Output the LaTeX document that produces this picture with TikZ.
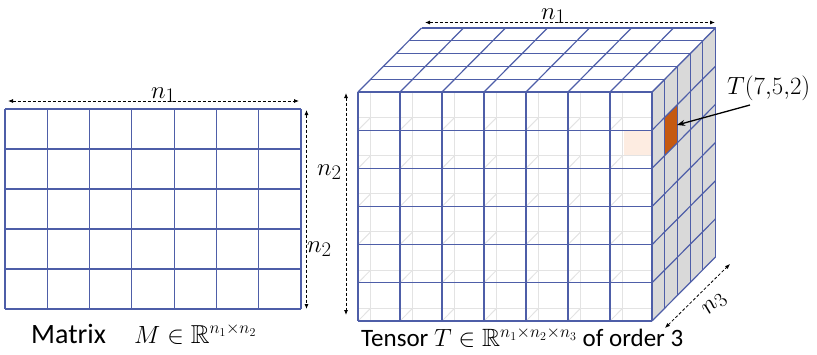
\documentclass[tikz,border=0pt]{standalone}
\usepackage{amsmath,amssymb}
\usepackage{fontspec}
\setmainfont{Carlito}
\usetikzlibrary{arrows.meta}
\definecolor{gridblue}{RGB}{78,94,168}
\definecolor{sidegray}{RGB}{217,217,217}
\definecolor{cellorange}{RGB}{197,90,17}
\definecolor{peach}{RGB}{253,236,225}
\begin{document}
\begin{tikzpicture}[x=1pt,y=-1pt,
  gridline/.style={draw=gridblue,line width=1.2pt},
  ghostline/.style={draw=black!11,line width=1pt},
  dimarrow/.style={line width=0.8pt,dash pattern=on 3pt off 2pt,{Latex[length=5pt,width=4pt]}-{Latex[length=5pt,width=4pt]}},
  ptr/.style={line width=1.3pt,-{Stealth[length=8pt,width=6pt]}},
  lbl/.style={font=\fontsize{30}{32}\selectfont,inner sep=0pt,anchor=base west},
  captxt/.style={font=\fontsize{25}{27}\selectfont,inner sep=0pt,anchor=base west}]
\useasboundingbox (0,0) rectangle (817,354);

% ---------------- Matrix ----------------
\foreach \i in {0,...,7} \draw[gridline] ({5+296/7*\i},109) -- ({5+296/7*\i},309);
\foreach \j in {0,...,5} \draw[gridline] (5,{109+40*\j}) -- (301,{109+40*\j});

\coordinate (mL) at (8,101);
\coordinate (mR) at (299,101);
\coordinate (mT) at (306.5,110);
\coordinate (mB) at (306.5,309);
\draw[dimarrow] (mL) -- (mR);
\draw[dimarrow] (mT) -- (mB);
\node[lbl] (mn1) at (151,98) {$n_1$};
\node[lbl] (mn2) at (307,252) {$n_2$};
\node[captxt,font=\fontsize{28}{30}\selectfont] (mcap) at (31,343) {Matrix};
\node[captxt,font=\fontsize{26}{28}\selectfont] (mmath) at (134,343) {$M\in\mathbb{R}^{n_1\times n_2}$};

% ---------------- Tensor ----------------
% ghost inner edges (depth layer 1) on the front face
\begin{scope}
\clip (358,92) rectangle (652,321);
\foreach \i in {0,...,7} \draw[ghostline] ({358+42*\i+12.7},79) -- ({358+42*\i+12.7},321);
\foreach \j in {0,...,6} \draw[ghostline] (358,{92+229/6*\j-12.8}) -- (665,{92+229/6*\j-12.8});
\foreach \i in {0,...,7}
  \foreach \j in {0,...,6}
    \draw[ghostline] ({358+42*\i},{92+229/6*\j}) -- ++(12.7,-12.8);
\end{scope}
\fill[peach] (624,131) rectangle (652,155);
% front grid
\foreach \i in {0,...,7} \draw[gridline] ({358+42*\i},92) -- ({358+42*\i},321);
\foreach \j in {0,...,6} \draw[gridline] (358,{92+229/6*\j}) -- (652,{92+229/6*\j});
% side face
\fill[sidegray] (652,92) -- (715.5,28) -- (715.5,257) -- (652,321) -- cycle;
\fill[cellorange] (664.7,{92+229/6-12.8}) -- (677.4,{92+229/6-25.6}) -- (677.4,{92+2*229/6-25.6}) -- (664.7,{92+2*229/6-12.8}) -- cycle;
\foreach \k in {0,...,5} \draw[gridline] ({652+12.7*\k},{92-12.8*\k}) -- ({652+12.7*\k},{321-12.8*\k});
\foreach \j in {0,...,6} \draw[gridline] (652,{92+229/6*\j}) -- (715.5,{28+229/6*\j});
% top face
\fill[white] (358,92) -- (652,92) -- (715.5,28) -- (421.5,28) -- cycle;
\foreach \i in {0,...,7} \draw[gridline] ({358+42*\i},92) -- ({358+42*\i+63.5},28);
\foreach \k in {0,...,5} \draw[gridline] ({358+12.7*\k},{92-12.8*\k}) -- ({652+12.7*\k},{92-12.8*\k});

% dimension arrows
\coordinate (tL) at (425,22.5);
\coordinate (tR) at (715,22.5);
\coordinate (tT) at (346,93);
\coordinate (tB) at (346,315);
\coordinate (dF) at (665,328);
\coordinate (dB) at (730,264);
\draw[dimarrow] (tL) -- (tR);
\draw[dimarrow] (tT) -- (tB);
\draw[dimarrow] (dF) -- (dB);
\node[lbl] (tn1) at (541,19) {$n_1$};
\node[lbl] (tn2) at (317,175) {$n_2$};
\node[font=\fontsize{30}{32}\selectfont,inner sep=0pt,rotate=45] (tn3) at (715,305) {$n_3$};

% element label
\node[lbl,font=\fontsize{28}{30}\selectfont] (tlab) at (727,94) {$T(7{,}5{,}2)$};
\coordinate (cell) at (677,125);
\coordinate (tptr) at (750,105);
\draw[ptr] (tptr) -- (cell);
\node[captxt] (tcap) at (361,346.5) {Tensor $T\in\mathbb{R}^{n_1\times n_2\times n_3}$ of order 3};
\end{tikzpicture}
\end{document}
